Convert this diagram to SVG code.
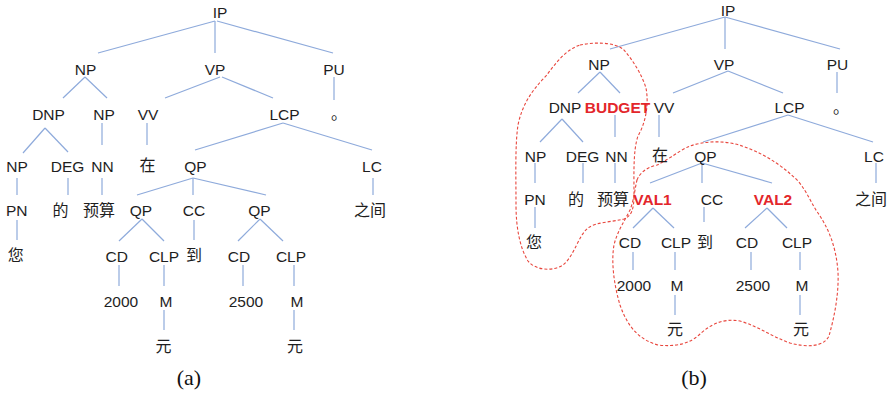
<svg xmlns="http://www.w3.org/2000/svg" width="888" height="396" viewBox="0 0 888 396">
  <style>
    .n { font-family: "Liberation Sans", Arial, sans-serif; font-size: 15.5px; fill: #1e1e1e; text-anchor: middle; }
    .z { font-family: "Noto Sans CJK SC", "Noto Sans CJK TC", sans-serif; font-size: 16px; fill: #1e1e1e; text-anchor: middle; }
    .dot { text-anchor: start; }
    .r { font-weight: bold; fill: #e3262b; }
    .cap { font-family: "Liberation Serif", "Times New Roman", serif; font-size: 22px; fill: #111; text-anchor: middle; }
    .e line { stroke: #8eaadb; stroke-width: 1.2; fill: none; }
    .hull { stroke: #e8463d; stroke-width: 1.1; stroke-dasharray: 3 2; fill: none; }
  </style>
  <rect width="888" height="396" fill="#fff"/>

  <!-- tree (a): edges -->
  <g id="edges-a" class="e">
    <line x1="215" y1="21" x2="98" y2="53"/>
    <line x1="215" y1="21" x2="215" y2="53"/>
    <line x1="217" y1="21" x2="333" y2="53"/>
    <line x1="85" y1="77" x2="63" y2="98"/>
    <line x1="85" y1="77" x2="107" y2="98"/>
    <line x1="220" y1="77" x2="165" y2="98"/>
    <line x1="222" y1="77" x2="273" y2="98"/>
    <line x1="334" y1="77" x2="334" y2="100"/>
    <line x1="45" y1="128" x2="23" y2="153"/>
    <line x1="45" y1="128" x2="68" y2="152"/>
    <line x1="102" y1="123" x2="102" y2="145"/>
    <line x1="147" y1="123" x2="147" y2="145"/>
    <line x1="283" y1="123" x2="195" y2="150"/>
    <line x1="283" y1="123" x2="372" y2="150"/>
    <line x1="17" y1="178" x2="17" y2="195"/>
    <line x1="68" y1="178" x2="68" y2="195"/>
    <line x1="102" y1="178" x2="102" y2="195"/>
    <line x1="193" y1="178" x2="137" y2="195"/>
    <line x1="193" y1="178" x2="193" y2="195"/>
    <line x1="193" y1="178" x2="266" y2="195"/>
    <line x1="373" y1="178" x2="373" y2="195"/>
    <line x1="17" y1="220" x2="17" y2="240"/>
    <line x1="142" y1="219" x2="119" y2="241"/>
    <line x1="142" y1="219" x2="164" y2="241"/>
    <line x1="194" y1="220" x2="194" y2="240"/>
    <line x1="260" y1="219" x2="238" y2="241"/>
    <line x1="260" y1="219" x2="283" y2="241"/>
    <line x1="119" y1="265" x2="119" y2="286"/>
    <line x1="164" y1="265" x2="164" y2="286"/>
    <line x1="243" y1="265" x2="243" y2="286"/>
    <line x1="294" y1="265" x2="294" y2="286"/>
    <line x1="164" y1="310" x2="164" y2="330"/>
    <line x1="294" y1="310" x2="294" y2="330"/>
  </g>

  <!-- tree (a): nodes -->
  <g id="a-ip"><text class="n" x="220" y="18">IP</text></g>
  <g id="a-np"><text class="n" x="85.5" y="75">NP</text></g>
  <g id="a-vp"><text class="n" x="215" y="75">VP</text></g>
  <g id="a-pu"><text class="n" x="334" y="75">PU</text></g>
  <g id="a-dnp"><text class="n" x="48.5" y="120">DNP</text></g>
  <g id="a-np-nn"><text class="n" x="104" y="120">NP</text></g>
  <g id="a-vv"><text class="n" x="148" y="120">VV</text></g>
  <g id="a-lcp"><text class="n" x="284.5" y="120">LCP</text></g>
  <g id="a-period"><text class="z dot" x="331" y="119">。</text></g>
  <g id="a-np-pn"><text class="n" x="17" y="172">NP</text></g>
  <g id="a-deg"><text class="n" x="67.5" y="172">DEG</text></g>
  <g id="a-nn"><text class="n" x="102.5" y="172">NN</text></g>
  <g id="a-zai"><text class="z" x="147.5" y="171">在</text></g>
  <g id="a-qp"><text class="n" x="195.5" y="172">QP</text></g>
  <g id="a-lc"><text class="n" x="372" y="172">LC</text></g>
  <g id="a-pn"><text class="n" x="16.7" y="216">PN</text></g>
  <g id="a-de"><text class="z" x="60.5" y="215.5">的</text></g>
  <g id="a-yusuan"><text class="z" x="99" y="215.5">预算</text></g>
  <g id="a-qp1"><text class="n" x="141" y="216">QP</text></g>
  <g id="a-cc"><text class="n" x="194" y="216">CC</text></g>
  <g id="a-qp2"><text class="n" x="259.5" y="216">QP</text></g>
  <g id="a-zhijian"><text class="z" x="370" y="215.5">之间</text></g>
  <g id="a-nin"><text class="z" x="15.7" y="261">您</text></g>
  <g id="a-cd1"><text class="n" x="116.7" y="262">CD</text></g>
  <g id="a-clp1"><text class="n" x="164" y="262">CLP</text></g>
  <g id="a-dao"><text class="z" x="194" y="261">到</text></g>
  <g id="a-cd2"><text class="n" x="239" y="262">CD</text></g>
  <g id="a-clp2"><text class="n" x="291" y="262">CLP</text></g>
  <g id="a-2000"><text class="n" x="121" y="307">2000</text></g>
  <g id="a-m1"><text class="n" x="166" y="307">M</text></g>
  <g id="a-2500"><text class="n" x="246" y="307">2500</text></g>
  <g id="a-m2"><text class="n" x="297" y="307">M</text></g>
  <g id="a-yuan1"><text class="z" x="163.5" y="352">元</text></g>
  <g id="a-yuan2"><text class="z" x="295" y="352">元</text></g>
  <text class="cap" x="189" y="385">(a)</text>

  <!-- tree (b): edges -->
  <g id="edges-b" class="e">
    <line x1="725" y1="17" x2="610" y2="49"/>
    <line x1="725" y1="17" x2="725" y2="49"/>
    <line x1="725" y1="17" x2="840" y2="49"/>
    <line x1="600" y1="72" x2="578" y2="93"/>
    <line x1="600" y1="72" x2="620" y2="93"/>
    <line x1="728" y1="71" x2="673" y2="93"/>
    <line x1="728" y1="71" x2="783" y2="93"/>
    <line x1="837" y1="72" x2="837" y2="93"/>
    <line x1="562" y1="119" x2="540" y2="142"/>
    <line x1="562" y1="119" x2="583" y2="142"/>
    <line x1="615" y1="115" x2="615" y2="137"/>
    <line x1="659" y1="115" x2="659" y2="137"/>
    <line x1="788" y1="115" x2="703" y2="142"/>
    <line x1="788" y1="115" x2="873" y2="142"/>
    <line x1="535" y1="163" x2="535" y2="183"/>
    <line x1="583" y1="163" x2="583" y2="183"/>
    <line x1="615" y1="163" x2="615" y2="183"/>
    <line x1="702" y1="163" x2="650" y2="183"/>
    <line x1="702" y1="163" x2="702" y2="183"/>
    <line x1="702" y1="163" x2="772" y2="183"/>
    <line x1="876" y1="163" x2="876" y2="183"/>
    <line x1="535" y1="207" x2="535" y2="228"/>
    <line x1="653" y1="208" x2="633" y2="228"/>
    <line x1="653" y1="208" x2="674" y2="228"/>
    <line x1="704" y1="207" x2="704" y2="222"/>
    <line x1="767" y1="208" x2="745" y2="228"/>
    <line x1="767" y1="208" x2="787" y2="228"/>
    <line x1="633" y1="252" x2="633" y2="270"/>
    <line x1="675" y1="252" x2="675" y2="270"/>
    <line x1="751" y1="252" x2="751" y2="270"/>
    <line x1="800" y1="252" x2="800" y2="270"/>
    <line x1="675" y1="295" x2="675" y2="315"/>
    <line x1="800" y1="295" x2="800" y2="315"/>
  </g>

  <!-- tree (b): dashed hulls around the marked subtrees -->
  <g id="hulls">
    <path class="hull" d="M580,45 C595,42 613,42 623,49 C633,60 642,75 646,88 C649,104 646,122 638,136 C633,150 634,175 634,195 C634,208 632,216 624,219 C612,222 596,222 588,228 C578,236 575,255 563,265 C552,272 535,270 528,261 C520,248 516,228 516,205 C516,175 515,145 518,125 C522,105 532,90 546,76 C555,64 565,50 580,45 Z"/>
    <path class="hull" d="M637,180 C640,172 648,167 657,165 C668,160 680,150 690,146 C705,141 725,140 742,146 C760,152 780,163 798,181 C808,193 812,205 818,213 C828,228 836,245 838,272 C839,295 834,318 829,336 C823,348 805,347 790,343 C772,337 760,327 740,321 C722,318 710,325 700,334 C690,344 675,347 658,345 C640,340 628,328 620,305 C614,285 611,262 614,245 C617,232 624,222 630,210 C634,200 635,188 637,180 Z"/>
  </g>

  <!-- tree (b): nodes -->
  <g id="b-ip"><text class="n" x="728" y="16">IP</text></g>
  <g id="b-np"><text class="n" x="599" y="70">NP</text></g>
  <g id="b-vp"><text class="n" x="724" y="70">VP</text></g>
  <g id="b-pu"><text class="n" x="837.5" y="70">PU</text></g>
  <g id="b-dnp"><text class="n" x="565" y="113">DNP</text></g>
  <g id="b-budget"><text class="n r" x="617.5" y="113">BUDGET</text></g>
  <g id="b-vv"><text class="n" x="664" y="113">VV</text></g>
  <g id="b-lcp"><text class="n" x="789.5" y="113">LCP</text></g>
  <g id="b-period"><text class="z dot" x="833" y="113">。</text></g>
  <g id="b-np-pn"><text class="n" x="535.5" y="162">NP</text></g>
  <g id="b-deg"><text class="n" x="582.5" y="162">DEG</text></g>
  <g id="b-nn"><text class="n" x="616.5" y="162">NN</text></g>
  <g id="b-zai"><text class="z" x="660" y="161">在</text></g>
  <g id="b-qp"><text class="n" x="705.5" y="162">QP</text></g>
  <g id="b-lc"><text class="n" x="874" y="162">LC</text></g>
  <g id="b-pn"><text class="n" x="535" y="205">PN</text></g>
  <g id="b-de"><text class="z" x="576" y="204.5">的</text></g>
  <g id="b-yusuan"><text class="z" x="613" y="204.5">预算</text></g>
  <g id="b-val1"><text class="n r" x="652.5" y="205">VAL1</text></g>
  <g id="b-cc"><text class="n" x="712" y="205">CC</text></g>
  <g id="b-val2"><text class="n r" x="773" y="205">VAL2</text></g>
  <g id="b-zhijian"><text class="z" x="871" y="204.5">之间</text></g>
  <g id="b-nin"><text class="z" x="534" y="247.5">您</text></g>
  <g id="b-cd1"><text class="n" x="630" y="248">CD</text></g>
  <g id="b-clp1"><text class="n" x="676" y="248">CLP</text></g>
  <g id="b-dao"><text class="z" x="705" y="247.5">到</text></g>
  <g id="b-cd2"><text class="n" x="747" y="248">CD</text></g>
  <g id="b-clp2"><text class="n" x="797" y="248">CLP</text></g>
  <g id="b-2000"><text class="n" x="634" y="291">2000</text></g>
  <g id="b-m1"><text class="n" x="677" y="291">M</text></g>
  <g id="b-2500"><text class="n" x="753" y="291">2500</text></g>
  <g id="b-m2"><text class="n" x="802" y="291">M</text></g>
  <g id="b-yuan1"><text class="z" x="675" y="335">元</text></g>
  <g id="b-yuan2"><text class="z" x="801" y="335">元</text></g>
  <text class="cap" x="694" y="385">(b)</text>
</svg>
